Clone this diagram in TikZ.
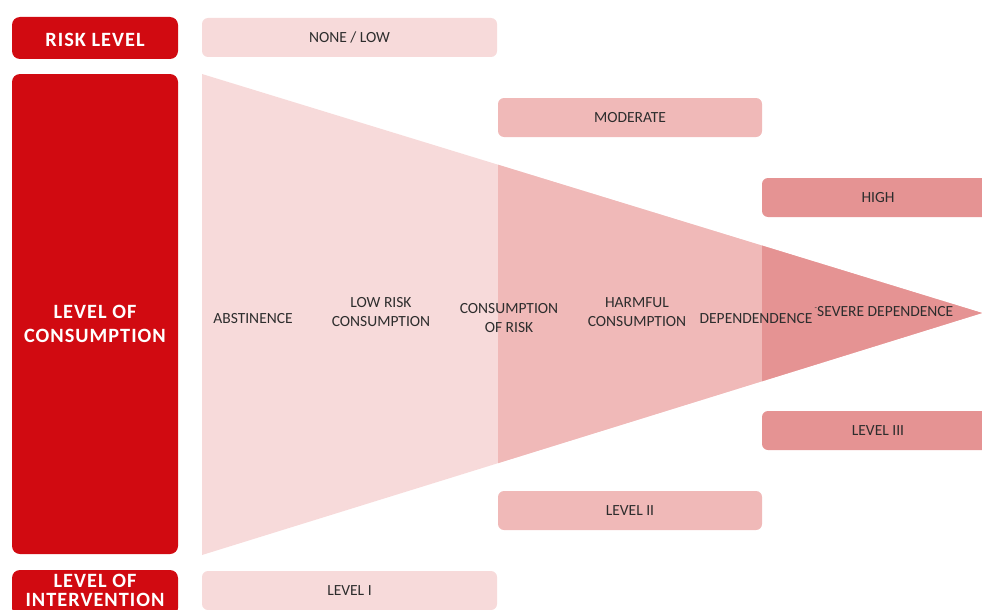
\documentclass[tikz,border=0pt]{standalone}
\usepackage{fontspec}
\setmainfont{Carlito}
\usetikzlibrary{calc}
\definecolor{signal}{RGB}{209,10,17}
\definecolor{blush}{RGB}{247,218,218}
\definecolor{rose}{RGB}{240,185,184}
\definecolor{coral}{RGB}{229,147,147}
\definecolor{ink}{RGB}{45,45,45}
\tikzset{
  head/.style={fill=signal,text=white,rounded corners=8pt,minimum width=166pt,
    inner sep=0pt,align=center,
    font=\fontsize{20.3}{24}\selectfont\bfseries\addfontfeature{LetterSpace=5}},
  headtext/.style={text=white,inner sep=0pt,align=center,
    font=\fontsize{20.3}{#1}\selectfont\bfseries\addfontfeature{LetterSpace=5}},
  headtext/.default=24,
  band/.style={fill=#1,text=ink,rounded corners=6pt,minimum height=39pt,
    inner sep=0pt,font=\fontsize{15.5}{18}\selectfont},
  band/.default=blush,
  stage/.style={text=ink,align=center,inner sep=0pt,font=\fontsize{15.5}{18.5}\selectfont},
}
\begin{document}
\begin{tikzpicture}[x=1pt,y=-1pt]
  \clip (0,0) rectangle (982,610);
  % funnel
  \coordinate (top) at (202,74);
  \coordinate (bot) at (202,555);
  \coordinate (tip) at (982,313);
  \fill[blush] (top) -- (tip) -- (bot) -- cycle;
  \fill[rose] ($(top)!0.3795!(tip)$) -- (tip) -- ($(bot)!0.3795!(tip)$) -- cycle;
  \fill[coral] ($(top)!0.718!(tip)$) -- (tip) -- ($(bot)!0.718!(tip)$) -- cycle;
  % row heads
  \node[head,minimum height=42pt] (risk) at (95,38) {};
  \node[headtext] (risktext) at (95,40) {RISK LEVEL};
  \node[head,minimum height=480pt] (cons) at (95,314) {};
  \node[headtext] (constext) at (95,324) {LEVEL OF\\CONSUMPTION};
  \node[head,minimum height=46pt] (interv) at (95,593) {};
  \node[headtext=19] (intervtext) at (95,590) {LEVEL OF\\INTERVENTION};
  % risk bands
  \node[band,minimum width=295pt] (low) at (349.5,37.5) {NONE / LOW};
  \node[band=rose,minimum width=264pt] (moderate) at (630,117.5) {MODERATE};
  \node[band=coral,minimum width=232pt] (high) at (878,197.5) {HIGH};
  % intervention bands
  \node[band,minimum width=295pt] (lvl1) at (349.5,590.5) {LEVEL I};
  \node[band=rose,minimum width=264pt] (lvl2) at (630,510.5) {LEVEL II};
  \node[band=coral,minimum width=232pt] (lvl3) at (878,430.5) {LEVEL III};
  % stages
  \node[stage] (abst) at (253,319) {ABSTINENCE};
  \node[stage] (lowrisk) at (381,312) {LOW RISK\\CONSUMPTION};
  \node[stage] (ofrisk) at (509,318) {CONSUMPTION\\OF RISK};
  \node[stage] (harm) at (637,312) {HARMFUL\\CONSUMPTION};
  \node[stage] (dep) at (756,319) {DEPENDENDENCE};
  \node[stage] (severe) at (884,312) {\raisebox{6pt}{\fontsize{8}{8}\selectfont-}SEVERE DEPENDENCE};
\end{tikzpicture}
\end{document}
